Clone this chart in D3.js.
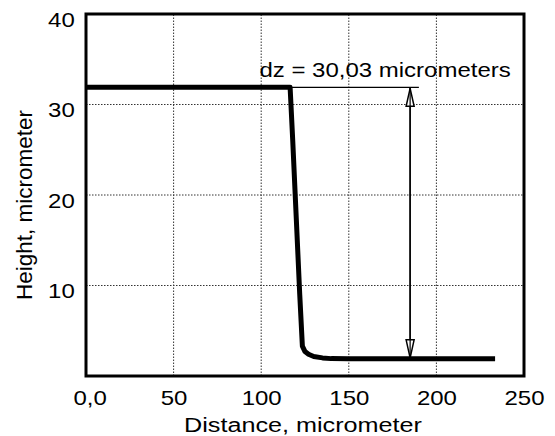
<!DOCTYPE html>
<html>
<head>
<meta charset="utf-8">
<script src="https://cdn.jsdelivr.net/npm/d3@7"></script>
<style>
  body { margin: 0; background: #fff; }
  text { font-family: "Liberation Sans", Arial, sans-serif; fill: #000; }
</style>
</head>
<body>
<div id="chart"></div>
<script>
// profile data (distance in micrometer, height in micrometer)
const distance = [0, 116.5, 118, 120, 122, 123.5, 125, 127, 130, 135, 140, 150, 233.5];
const height = [31.9, 31.9, 26, 17.5, 9, 3.3, 2.7, 2.4, 2.15, 2.0, 1.92, 1.9, 1.9];
const xTicks = [0, 50, 100, 150, 200, 250];
const yTicks = [10, 20, 30, 40];
const dzLabel = "dz = 30,03 micrometers";
const dzX = 185;
const dzTop = 31.9;
const dzBottom = 1.9;

const W = 555, H = 436;
const margin = { top: 14, right: 31, bottom: 60, left: 86 };

const svg = d3.select("#chart").append("svg")
  .attr("width", W)
  .attr("height", H);

const x = d3.scaleLinear().domain([0, 250]).range([margin.left, W - margin.right]);
const y = d3.scaleLinear().domain([0, 40]).range([H - margin.bottom, margin.top]);

// dotted grid
svg.append("g")
  .selectAll("line")
  .data(xTicks.slice(1, -1))
  .join("line")
  .attr("x1", d => x(d)).attr("x2", d => x(d))
  .attr("y1", y(0)).attr("y2", y(40))
  .attr("stroke", "#333")
  .attr("stroke-width", 1)
  .attr("stroke-dasharray", "1.5,1.5");

svg.append("g")
  .selectAll("line")
  .data(yTicks.slice(0, -1))
  .join("line")
  .attr("x1", x(0)).attr("x2", x(250))
  .attr("y1", d => y(d)).attr("y2", d => y(d))
  .attr("stroke", "#333")
  .attr("stroke-width", 1)
  .attr("stroke-dasharray", "1.5,1.5");

// axes (labels only, frame drawn separately)
const xAxis = svg.append("g")
  .attr("transform", `translate(0,${y(0)})`)
  .call(d3.axisBottom(x).tickValues(xTicks).tickSize(0).tickPadding(0)
    .tickFormat(d => d === 0 ? "0,0" : d));
xAxis.select(".domain").remove();
xAxis.selectAll("text")
  .attr("y", 29)
  .attr("dy", 0)
  .attr("font-size", 20)
  .attr("transform", "scale(1.2,1)")
  .attr("x", d => d === 0 ? 3 : 0);

const yAxis = svg.append("g")
  .attr("transform", `translate(${x(0)},0)`)
  .call(d3.axisLeft(y).tickValues(yTicks).tickSize(0).tickPadding(0));
yAxis.select(".domain").remove();
yAxis.selectAll("text")
  .attr("x", -8)
  .attr("dy", "0.6em")
  .attr("font-size", 20)
  .attr("transform", "translate(-1.6,0) scale(1.2,1)")
  .attr("text-anchor", "end");

// frame
svg.append("rect")
  .attr("x", x(0)).attr("y", y(40))
  .attr("width", x(250) - x(0))
  .attr("height", y(0) - y(40))
  .attr("fill", "none")
  .attr("stroke", "#000")
  .attr("stroke-width", 3);

// profile
const line = d3.line()
  .x((d, i) => x(distance[i]))
  .y(d => y(d));

svg.append("path")
  .datum(height)
  .attr("d", line)
  .attr("fill", "none")
  .attr("stroke", "#000")
  .attr("stroke-width", 5)
  .attr("stroke-linejoin", "round");

// dz annotation
svg.append("line")
  .attr("x1", x(116.5)).attr("x2", x(190))
  .attr("y1", y(dzTop)).attr("y2", y(dzTop))
  .attr("stroke", "#000").attr("stroke-width", 1.3);

svg.append("line")
  .attr("x1", x(dzX)).attr("x2", x(dzX))
  .attr("y1", y(dzTop)).attr("y2", y(dzBottom))
  .attr("stroke", "#000").attr("stroke-width", 1.5);

const ax = x(dzX), aTop = y(dzTop), aBot = y(dzBottom);
svg.append("path")
  .attr("d", `M${ax},${aTop + 1} L${ax - 4},${aTop + 19} L${ax + 4},${aTop + 19} Z`)
  .attr("fill", "#fff").attr("stroke", "#000").attr("stroke-width", 1.5);
svg.append("path")
  .attr("d", `M${ax},${aBot - 1} L${ax - 4},${aBot - 19} L${ax + 4},${aBot - 19} Z`)
  .attr("fill", "#fff").attr("stroke", "#000").attr("stroke-width", 1.5);
svg.append("line")
  .attr("x1", ax).attr("x2", ax)
  .attr("y1", aTop).attr("y2", aBot)
  .attr("stroke", "#000").attr("stroke-width", 1.2);

svg.append("text")
  .attr("x", x(99) / 1.2)
  .attr("y", y(33.05))
  .attr("font-size", 20)
  .attr("transform", "scale(1.2,1)")
  .text(dzLabel);

// axis titles
svg.append("text")
  .attr("x", 303 / 1.2)
  .attr("y", 432)
  .attr("font-size", 21)
  .attr("text-anchor", "middle")
  .attr("transform", "scale(1.2,1)")
  .text("Distance, micrometer");

svg.append("text")
  .attr("transform", "translate(32,205) rotate(-90)")
  .attr("font-size", 22.5)
  .attr("text-anchor", "middle")
  .text("Height, micrometer");
</script>
</body>
</html>
